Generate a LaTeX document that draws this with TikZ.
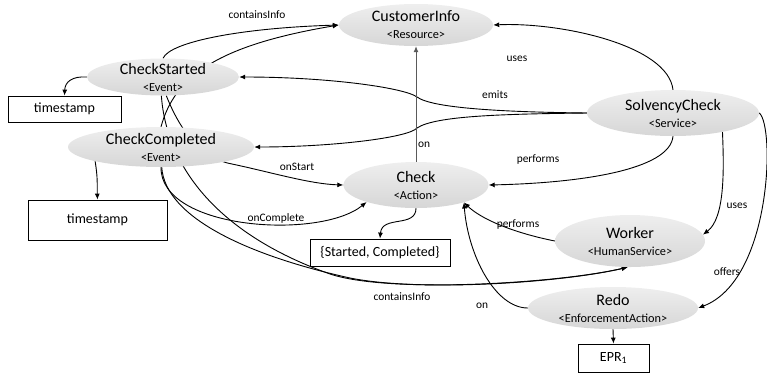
\documentclass[tikz,border=0pt]{standalone}
\usepackage{fontspec}
\setmainfont{Carlito}
\usetikzlibrary{shapes.geometric,arrows.meta,backgrounds}
\definecolor{onc}{RGB}{90,90,90}
\newcommand{\entsub}[1]{\\{\fontsize{12.3}{13}\selectfont #1}}
\begin{document}
\begin{tikzpicture}[x=1pt,y=-1pt,
  ent/.style={ellipse, top color=gray!13, bottom color=gray!32, draw=none,
    inner xsep=0pt, inner ysep=-8pt, align=center, font=\fontsize{16}{17}\selectfont},
  box/.style={draw=black, line width=0.8pt, fill=white, inner sep=0pt,
    font=\fontsize{14}{16}\selectfont},
  lbl/.style={font=\fontsize{11.4}{13}\selectfont, inner sep=0pt},
  conn/.style={line width=0.9pt, -{Latex[length=6pt,width=5pt]}},
]
\useasboundingbox (0,0) rectangle (767,373);

% entity ellipses
\node[ent, minimum width=154pt, minimum height=42pt] (ci) at (416,25) {CustomerInfo\entsub{<Resource>}};
\node[ent, minimum width=152pt, minimum height=37pt] (cs) at (163,77) {CheckStarted\entsub{<Event>}};
\node[ent, minimum width=186pt, minimum height=40pt] (cc) at (161,147) {CheckCompleted\entsub{<Event>}};
\node[ent, minimum width=172pt, minimum height=46pt] (sc) at (673,113) {SolvencyCheck\entsub{<Service>}};
\node[ent, minimum width=145pt, minimum height=46pt] (ck) at (416,185) {Check\entsub{<Action>}};
\node[ent, minimum width=150pt, minimum height=52pt] (wk) at (630,241) {Worker\entsub{<HumanService>}};
\node[ent, minimum width=170pt, minimum height=42pt] (rd) at (613,308) {Redo\entsub{<EnforcementAction>}};

% value boxes
\node[box, minimum width=113pt, minimum height=26pt] (ts1) at (64.5,109) {timestamp};
\node[box, minimum width=139pt, minimum height=40pt] (ts2) at (97.5,220) {timestamp};
\node[box, minimum width=140pt, minimum height=27pt] (stc) at (380,252.5) {\{Started, Completed\}};
\node[box, minimum width=71pt, minimum height=28pt] (epr) at (613.5,358) {EPR\textsubscript{1}};

% labels
\node[lbl] (l1) at (257,15) {containsInfo};
\node[lbl] (l2) at (517,59) {uses};
\node[lbl] (l3) at (495,95) {emits};
\node[lbl, anchor=west] (l4) at (418,145) {on};
\node[lbl] (l5) at (538,160) {performs};
\node[lbl] (l6) at (297,167) {onStart};
\node[lbl] (l7) at (276,218) {onComplete};
\node[lbl] (l8) at (402,297) {containsInfo};
\node[lbl] (l9) at (518,225) {performs};
\node[lbl] (l10) at (737,206) {uses};
\node[lbl] (l11) at (727,272) {offers};
\node[lbl] (l12) at (482,306) {on};

\begin{scope}[on background layer]
% containsInfo -> CustomerInfo
\draw[conn] (cs.north) .. controls (170,42) and (240,28) .. (ci.west);
\draw[conn] (cc.north) .. controls (175,75) and (220,45) .. (ci.west);
% timestamps
\draw[conn] (cs.west) .. controls (72,76) and (65,82) .. (ts1.north);
\draw[conn] (cc.south west) .. controls (98,178) and (97,186) .. (ts2.north);
% uses
\draw[conn] (sc.north) .. controls (668,45) and (560,22) .. (ci.east);
% emits
\draw[conn] (sc.west) .. controls (500,112) and (432,108) .. (417,97)
  .. controls (405,88) and (330,77) .. (cs.east);
\draw[conn] (sc.west) .. controls (500,114) and (435,116) .. (417,128)
  .. controls (408,138) and (330,147) .. (cc.east);
% performs
\draw[conn] (sc.south) .. controls (670,170) and (580,183) .. (ck.east);
% uses (worker)
\draw[conn] (sc.-21) .. controls (724,170) and (725,218) .. (wk.5);
% offers
\draw[conn] (sc.east) .. controls (775,125) and (772,280) .. (rd.east);
% on (Check -> CustomerInfo)
\draw[conn, draw=onc, fill=onc] (ck.north) -- (ci.south);
% onStart
\draw[conn] (cs.-80) .. controls (180,130) and (200,158) .. (232,164)
  .. controls (270,172) and (310,184) .. (ck.west);
% onComplete
\draw[conn] (cc.south) .. controls (160,230) and (320,240) .. (ck.-161);
% containsInfo -> Worker
\draw[conn] (cc.-88) .. controls (165,218) and (250,256) .. (350,278)
  .. controls (420,292) and (560,283) .. (wk.-95);
\draw[conn] (cs.-95) .. controls (166,162) and (212,232) .. (330,274)
  .. controls (390,294) and (560,283) .. (wk.-95);
% Check -> states
\draw[conn] (ck.south) .. controls (416,228) and (382,215) .. (stc.north);
% Worker performs
\draw[conn] (wk.west) .. controls (510,232) and (480,218) .. (ck.-20);
% Redo on
\draw[conn] (rd.west) .. controls (495,308) and (468,255) .. (ck.-20);
% Redo -> EPR
\draw[conn] (rd.south) -- (epr.north);
\end{scope}
\end{tikzpicture}
\end{document}
